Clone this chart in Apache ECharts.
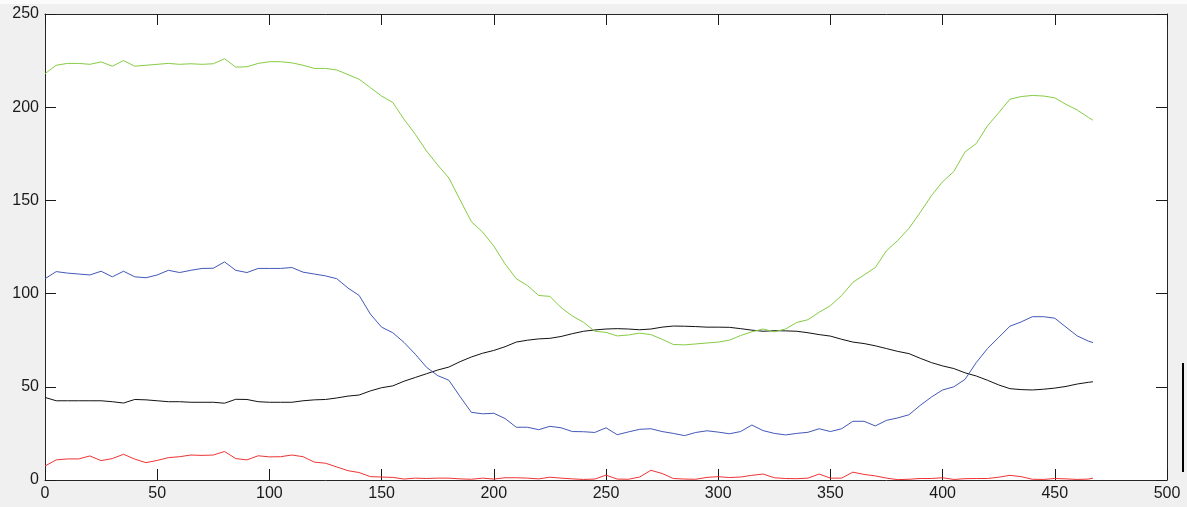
<!DOCTYPE html>
<html>
<head>
<meta charset="utf-8">
<style>
  html, body { margin: 0; padding: 0; background: #f0f0f0; }
  #chart { width: 1187px; height: 507px; }
</style>
<script src="https://cdn.jsdelivr.net/npm/echarts@6/dist/echarts.min.js"></script>
</head>
<body>
<div id="chart"></div>
<script>
// Sample positions along the horizontal axis
const xs = [0,5,10,15,20,25,30,35,40,45,50,55,60,65,70,75,80,85,90,95,
  100,105,110,115,120,125,130,135,140,145,150,155,160,165,170,175,180,185,190,195,
  200,205,210,215,220,225,230,235,240,245,250,255,260,265,270,275,280,285,290,295,
  300,305,310,315,320,325,330,335,340,345,350,355,360,365,370,375,380,385,390,395,
  400,405,410,415,420,425,430,435,440,445,450,455,460,465,467];

const greenValues = [218,222.5,223.5,223.5,223,224.3,222,225,222,222.5,223,223.5,223,223.3,223,223.3,226,221.5,221.7,223.5,
  224.4,224.4,223.8,222.5,220.8,220.8,220,217.5,215,210.5,206,202.5,193.5,185.5,176.5,169,162,150.2,138.6,133,
  125.5,116,108,104.3,99,98.5,92.5,88,84.6,79.8,79.2,77.3,77.8,78.8,78,75.5,72.7,72.5,73,73.5,
  74,75,77.5,79.5,81,79.5,81,84.5,86,90,93.5,99,106,110,114,123,128.5,135,143.5,152.5,
  160,165.5,176,180.5,190,197,204.3,205.7,206.3,206,205,201.5,198.5,194.5,193];

const blueValues = [108,111.8,111,110.5,110,112,109,112,109,108.5,110,112.5,111.3,112.5,113.5,113.6,117,112.5,111.3,113.5,
  113.5,113.5,114,111.5,110.5,109.5,108,103,99,89,82,79,73.8,67.5,60.5,56,53.5,44.7,36.3,35.5,
  35.8,33,28.3,28.3,27,28.8,28,26,25.9,25.5,28,24.3,25.8,27.2,27.5,26,25,23.8,25.5,26.4,
  25.7,24.8,26,29.5,26.5,25,24.2,25,25.6,27.5,26,27.5,31.5,31.5,29,32,33.3,35,40,44.5,
  48.3,50,54,63,70.5,76.5,82.5,84.8,87.6,87.6,86.8,82,77.3,74.5,73.7];

const blackValues = [44.3,42.5,42.5,42.5,42.5,42.5,42,41.3,43.2,43,42.5,42,42,41.7,41.7,41.7,41.2,43.3,43.2,42,
  41.7,41.7,41.7,42.5,43,43.2,44,45,45.6,47.8,49.5,50.5,53,55,57,59,60.6,63.5,66,68,
  69.5,71.5,74,75,75.7,76,77,78.5,79.8,80.5,81,81.2,81,80.6,81,82,82.6,82.5,82.3,82,
  82,81.9,81.2,80.4,79.8,80.1,80,79.8,79,78,77.2,75.5,74,73.2,72,70.5,69,67.8,65.3,63,
  61.2,59.8,57.5,55.8,53.5,51,49,48.5,48.3,48.7,49.3,50.2,51.5,52.4,52.7];

const redValues = [7.5,10.8,11.3,11.3,12.9,10.4,11.5,13.8,11.2,9.3,10.5,12,12.5,13.4,13.2,13.4,15.3,11.5,10.8,13,
  12.4,12.5,13.4,12.5,9.6,9,7,5,4,1.8,1.6,1.4,0.5,1,0.8,1,1,0.6,0.4,1,
  0.5,1.2,1.2,1,0.6,1.5,1,0.6,0.3,0.5,2.6,0.5,0.4,1.6,5.2,3.5,0.8,0.5,0.4,1.4,
  1.8,1.3,1.6,2.5,3.2,1.2,0.8,0.7,1,3.2,1,1,4.2,3,2.2,1,0.2,0.4,0.8,0.8,
  1.2,0.3,0.7,0.8,0.8,1.5,2.5,1.8,0.4,0.3,0.8,0.6,0.3,0.5,1];

const xTicks = { min: 0, max: 500, interval: 50 };
const yTicks = { min: 0, max: 250, interval: 50 };

function pairs(values) {
  return values.map((v, i) => [xs[i], v]);
}

const chart = echarts.init(document.getElementById('chart'), null, { renderer: 'canvas' });

const gridBox = { left: 45, right: 20, top: 14, bottom: 27 };
const labelFont = { fontFamily: '"Liberation Sans", Arial, sans-serif', fontSize: 16, color: '#1a1a1a' };
const boxLine = { show: true, onZero: false, lineStyle: { color: '#262626', width: 1 } };
const tickStyle = { show: true, inside: true, length: 11, lineStyle: { color: '#1a1a1a', width: 1 } };

function lineSeries(values, color) {
  return {
    type: 'line',
    data: pairs(values),
    showSymbol: false,
    symbol: 'none',
    smooth: false,
    animation: false,
    lineStyle: { color: color, width: 1 },
    emphasis: { disabled: true }
  };
}

chart.setOption({
  backgroundColor: '#f0f0f0',
  animation: false,
  grid: Object.assign({ show: false }, gridBox),
  xAxis: [
    {
      type: 'value', position: 'bottom', min: xTicks.min, max: xTicks.max, interval: xTicks.interval,
      axisLine: boxLine, axisTick: tickStyle, splitLine: { show: false },
      axisLabel: Object.assign({ margin: 6 }, labelFont)
    },
    {
      type: 'value', position: 'top', min: xTicks.min, max: xTicks.max, interval: xTicks.interval,
      axisLine: boxLine, axisTick: tickStyle, splitLine: { show: false },
      axisLabel: { show: false }
    }
  ],
  yAxis: [
    {
      type: 'value', position: 'left', min: yTicks.min, max: yTicks.max, interval: yTicks.interval,
      axisLine: boxLine, axisTick: tickStyle, splitLine: { show: false },
      axisLabel: Object.assign({ margin: 6 }, labelFont)
    },
    {
      type: 'value', position: 'right', min: yTicks.min, max: yTicks.max, interval: yTicks.interval,
      axisLine: boxLine, axisTick: tickStyle, splitLine: { show: false },
      axisLabel: { show: false }
    }
  ],
  graphic: [
    // light strip along the top edge of the figure window
    { type: 'rect', z: -100, shape: { x: 0, y: 0, width: 1187, height: 4 }, style: { fill: '#fbfbfb' }, silent: true },
    // white plotting area behind the axes
    { type: 'rect', z: -100, shape: { x: gridBox.left, y: gridBox.top, width: 1187 - gridBox.left - gridBox.right, height: 507 - gridBox.top - gridBox.bottom }, style: { fill: '#ffffff' }, silent: true },
    { type: 'line', shape: { x1: 1183, y1: 363, x2: 1183, y2: 472 }, style: { stroke: '#000', lineWidth: 2 }, silent: true }
  ],
  series: [
    lineSeries(redValues, '#ee3333'),
    lineSeries(blackValues, '#111111'),
    lineSeries(blueValues, '#4258b8'),
    lineSeries(greenValues, '#86cc44')
  ]
});
</script>
</body>
</html>
